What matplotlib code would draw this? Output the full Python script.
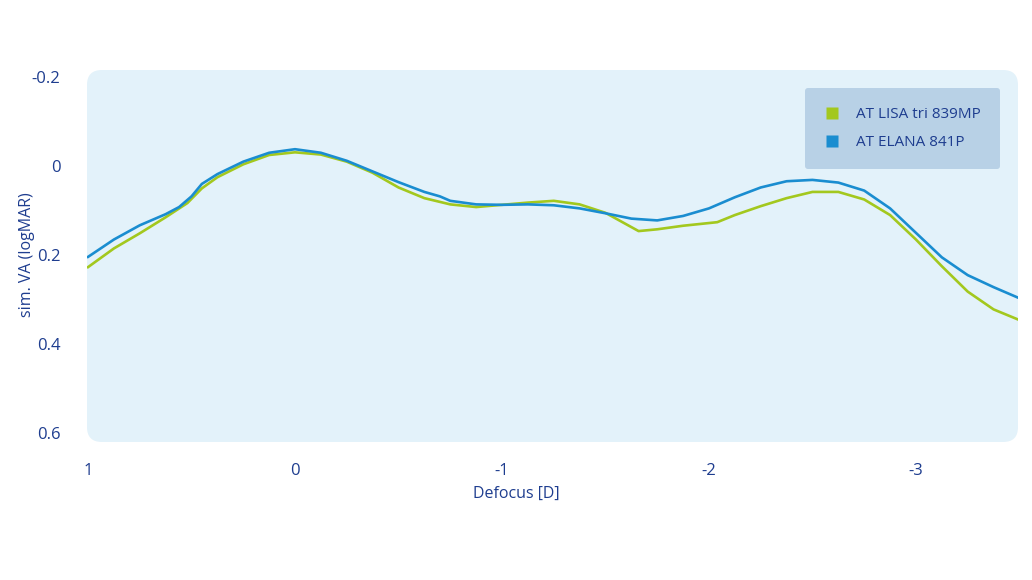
import matplotlib
matplotlib.use("Agg")
import matplotlib.pyplot as plt
from matplotlib.patches import FancyBboxPatch
from matplotlib.lines import Line2D

# Data
lisa_x = [1.0, 0.875, 0.75, 0.625, 0.52, 0.45, 0.375, 0.25, 0.125, 0.0, -0.125, -0.25, -0.375, -0.5,
          -0.625, -0.75, -0.875, -1.0, -1.125, -1.25, -1.375, -1.5, -1.66, -1.75, -1.875, -2.04,
          -2.125, -2.25, -2.375, -2.5, -2.625, -2.75, -2.875, -3.0, -3.125, -3.25, -3.375, -3.5]
lisa_y = [0.227, 0.185, 0.151, 0.115, 0.083, 0.050, 0.025, -0.004, -0.025, -0.031, -0.026, -0.010, 0.015, 0.048,
          0.072, 0.086, 0.092, 0.087, 0.082, 0.078, 0.086, 0.105, 0.146, 0.142, 0.134, 0.126,
          0.110, 0.090, 0.072, 0.058, 0.058, 0.075, 0.110, 0.165, 0.225, 0.282, 0.322, 0.346]

elana_x = [1.0, 0.875, 0.75, 0.625, 0.56, 0.5, 0.45, 0.375, 0.25, 0.125, 0.0, -0.125, -0.25, -0.375, -0.5,
           -0.625, -0.7, -0.75, -0.875, -1.0, -1.125, -1.25, -1.375, -1.5, -1.625, -1.75, -1.875, -2.0,
           -2.125, -2.25, -2.375, -2.5, -2.625, -2.75, -2.875, -3.0, -3.125, -3.25, -3.375, -3.5]
elana_y = [0.204, 0.165, 0.133, 0.108, 0.092, 0.068, 0.040, 0.018, -0.010, -0.030, -0.038, -0.030, -0.012, 0.012, 0.036,
           0.058, 0.068, 0.078, 0.086, 0.087, 0.086, 0.088, 0.095, 0.106, 0.118, 0.122, 0.112, 0.095,
           0.070, 0.048, 0.034, 0.031, 0.037, 0.055, 0.095, 0.150, 0.205, 0.245, 0.272, 0.297]

series_names = ["AT LISA tri 839MP", "AT ELANA 841P"]
x_ticks = [1, 0, -1, -2, -3]
x_tick_labels = ["1", "0", "-1", "-2", "-3"]
y_ticks = [-0.2, 0, 0.2, 0.4, 0.6]
y_tick_labels = ["-0.2", "0", "0.2", "0.4", "0.6"]

TEXT = "#1e3d8f"
GREEN = "#a3c81e"
BLUE = "#1a8dd0"
BG = "#e3f2fa"
LEG = "#b8d1e6"

plt.rcParams['font.family'] = ['Open Sans', 'DejaVu Sans']

fig = plt.figure(figsize=(10.32, 5.8), dpi=100)
ax = fig.add_axes([87/1032, 1-442/580, 931/1032, 372/580])
ax.patch.set_visible(False)
for s in ax.spines.values():
    s.set_visible(False)

bg = FancyBboxPatch((0, 0), 1, 1, boxstyle="round,pad=0,rounding_size=0.016",
                    transform=ax.transAxes, facecolor=BG, edgecolor="none",
                    mutation_aspect=931/372, zorder=0, clip_on=False)
ax.add_patch(bg)

ax.plot(lisa_x, lisa_y, color=GREEN, lw=1.9, zorder=3, solid_joinstyle='round')
ax.plot(elana_x, elana_y, color=BLUE, lw=1.9, zorder=4, solid_joinstyle='round')

ax.set_xlim(1.005, -3.493)
ax.set_ylim(0.62, -0.216)
ax.set_xticks(x_ticks)
ax.set_xticklabels(x_tick_labels)
ax.set_yticks(y_ticks)
ax.set_yticklabels(y_tick_labels)
ax.tick_params(axis='both', length=0, colors=TEXT, labelsize=12)
ax.tick_params(axis='x', pad=15)
ax.tick_params(axis='y', pad=19)

fig.text(516/1032, 1-494/580, "Defocus [D]", color=TEXT, fontsize=11.5, ha='center', va='center')
fig.text(27/1032, 1-255/580, "sim. VA (logMAR)", color=TEXT, fontsize=11.5, ha='center', va='center', rotation=90)

handles = [Line2D([], [], marker='s', color='none', markerfacecolor=GREEN, markeredgecolor='none', markersize=9),
           Line2D([], [], marker='s', color='none', markerfacecolor=BLUE, markeredgecolor='none', markersize=9)]
leg = ax.legend(handles, series_names, loc='upper right', bbox_to_anchor=(1000/1032, 1-88/580),
                bbox_transform=fig.transFigure, frameon=True, fancybox=True, facecolor=LEG,
                edgecolor='none', framealpha=1, fontsize=11, labelcolor=TEXT,
                borderpad=1.25, handletextpad=1.1, labelspacing=0.85, handlelength=1.0, borderaxespad=0)
leg.get_frame().set_boxstyle("round,pad=0,rounding_size=0.2")

fig.savefig("out.png", dpi=100, facecolor="white")
